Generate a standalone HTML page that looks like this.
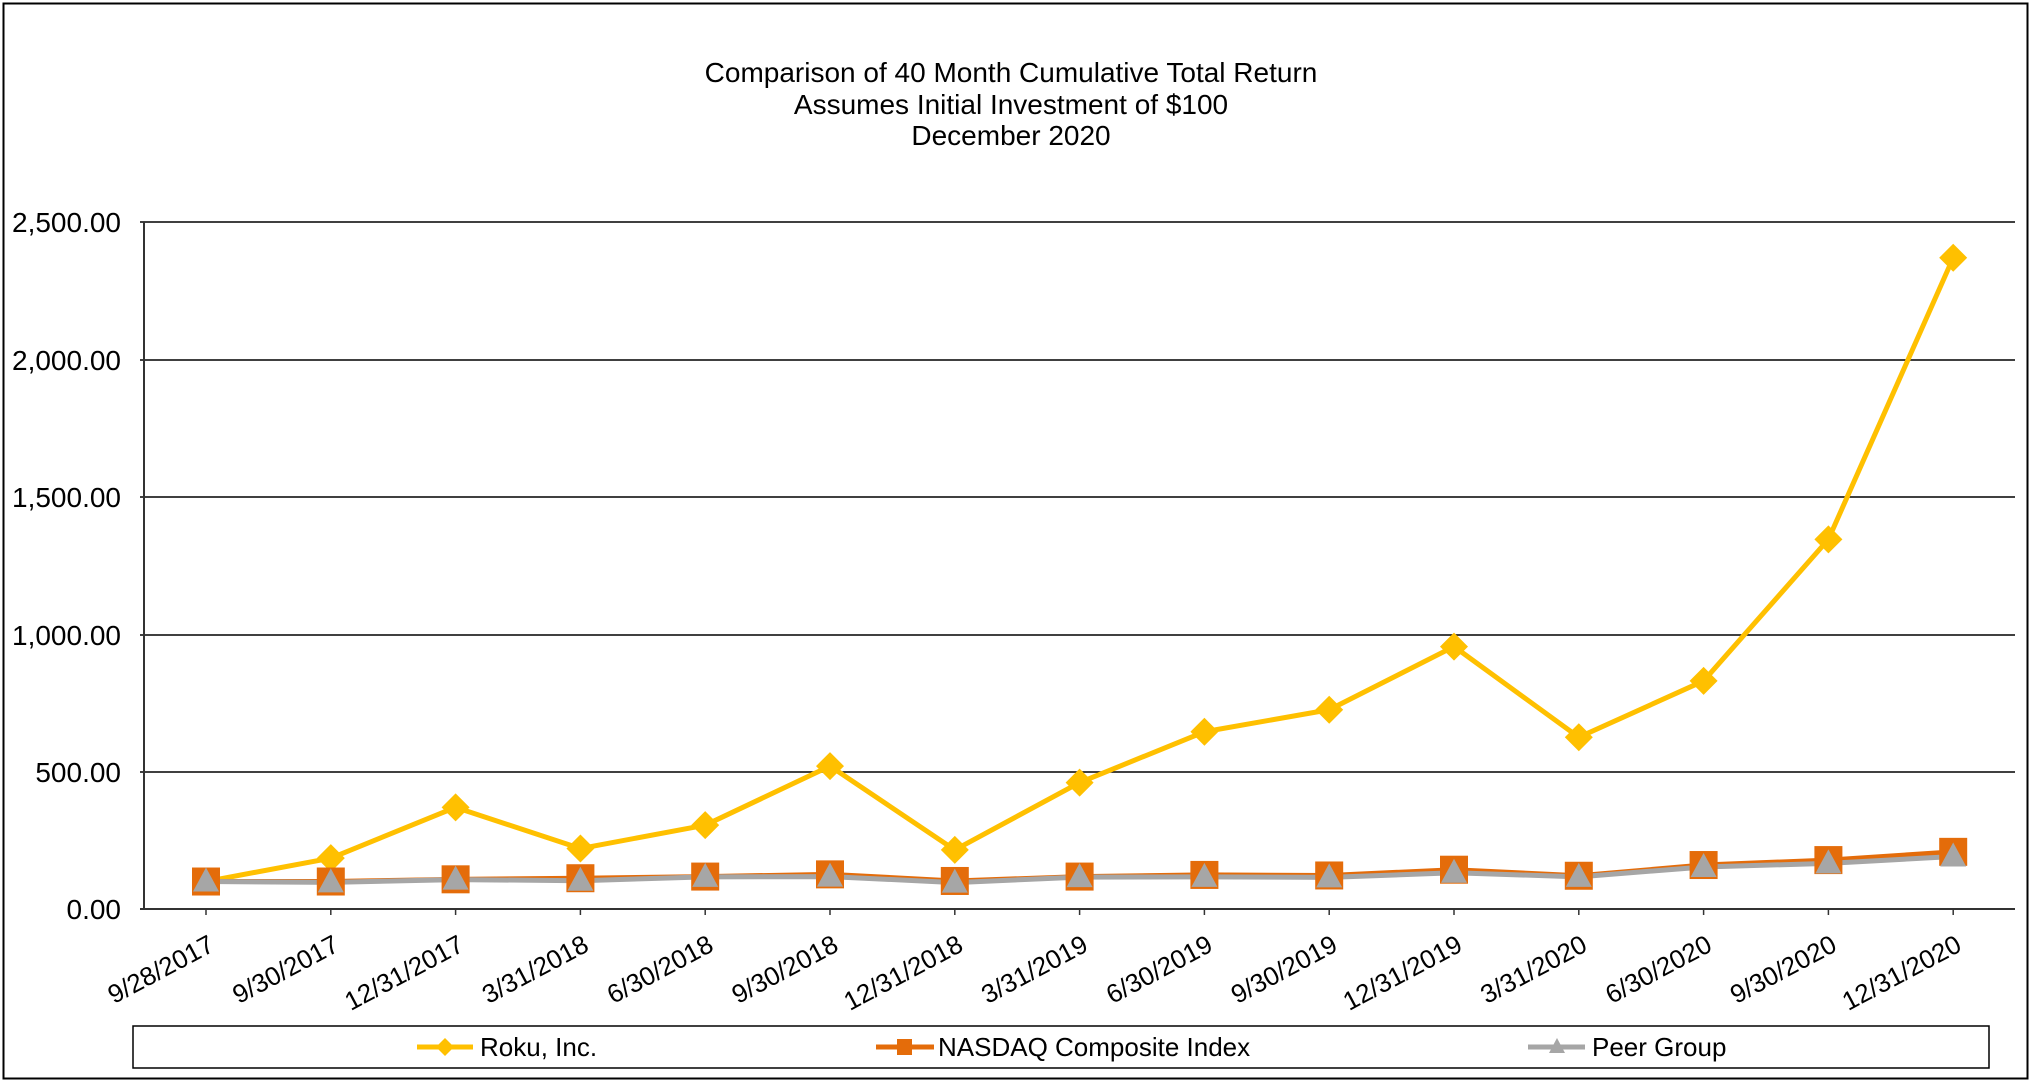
<!DOCTYPE html>
<html><head><meta charset="utf-8"><style>
html,body{margin:0;padding:0;background:#fff;}
svg{display:block;font-family:"Liberation Sans",Arial,sans-serif;}
</style></head><body>
<svg width="2032" height="1088" viewBox="0 0 2032 1088" xmlns="http://www.w3.org/2000/svg">
<rect x="3.5" y="3.5" width="2024" height="1075" fill="#fff" stroke="#000" stroke-width="2"/>
<g font-size="28" text-anchor="middle" fill="#000">
<text x="1011" y="82">Comparison of 40 Month Cumulative Total Return</text>
<text x="1011" y="114">Assumes Initial Investment of $100</text>
<text x="1011" y="145">December 2020</text>
</g>
<g stroke="#000" stroke-width="1.5">
<line x1="140" y1="222" x2="2015" y2="222"/>
<line x1="140" y1="360" x2="2015" y2="360"/>
<line x1="140" y1="497" x2="2015" y2="497"/>
<line x1="140" y1="635" x2="2015" y2="635"/>
<line x1="140" y1="772" x2="2015" y2="772"/>
</g>
<line x1="144" y1="222" x2="144" y2="910" stroke="#333" stroke-width="2"/>
<line x1="140" y1="909" x2="2015" y2="909" stroke="#333" stroke-width="2"/>
<g font-size="28" text-anchor="end" fill="#000">
<text x="121" y="232">2,500.00</text>
<text x="121" y="370">2,000.00</text>
<text x="121" y="507">1,500.00</text>
<text x="121" y="645">1,000.00</text>
<text x="121" y="782">500.00</text>
<text x="121" y="919">0.00</text>
</g>
<g id="ticks" stroke="#333" stroke-width="1.5"></g>
<g id="xl" font-size="26" text-anchor="end" fill="#000"></g>
<g id="series"></g>
<rect x="133" y="1026" width="1856" height="42" fill="#fff" stroke="#000" stroke-width="1.5"/>
<line x1="417" y1="1047" x2="473" y2="1047" stroke="#FFC000" stroke-width="5"/>
<polygon points="445,1038 454,1047 445,1056 436,1047" fill="#FFC000"/>
<text x="480" y="1056" font-size="26">Roku, Inc.</text>
<line x1="876" y1="1047" x2="934" y2="1047" stroke="#E46C0A" stroke-width="5"/>
<rect x="897" y="1039" width="15" height="16" fill="#E46C0A"/>
<text x="938" y="1056" font-size="26">NASDAQ Composite Index</text>
<line x1="1528" y1="1047" x2="1585" y2="1047" stroke="#A6A6A6" stroke-width="5"/>
<polygon points="1557,1038 1565,1053 1549,1053" fill="#A6A6A6"/>
<text x="1592" y="1056" font-size="26">Peer Group</text>
</svg>
<script>
var labels=["9/28/2017","9/30/2017","12/31/2017","3/31/2018","6/30/2018","9/30/2018","12/31/2018","3/31/2019","6/30/2019","9/30/2019","12/31/2019","3/31/2020","6/30/2020","9/30/2020","12/31/2020"];
var roku=[100,185,370,220,305,520,215,460,645,725,955,625,830,1345,2370];
var nas=[100,100,108,112,118,126,102,118,124,122,143,121,160,178,208];
var peer=[100,97,107,103,117,118,96,116,117,115,132,117,153,166,191];
var NS="http://www.w3.org/2000/svg";
function X(i){return 206+i*124.8;}
function Y(v){return 909-v*0.2748;}
function el(t,a,p){var e=document.createElementNS(NS,t);for(var k in a)e.setAttribute(k,a[k]);p.appendChild(e);return e;}
var tk=document.getElementById("ticks"),xl=document.getElementById("xl"),s=document.getElementById("series");
for(var i=0;i<15;i++){el("line",{x1:X(i),y1:909,x2:X(i),y2:915},tk);
var t=el("text",{transform:"translate("+(X(i)+10)+",950) rotate(-28)"},xl);t.textContent=labels[i];}
function line(d,c,w){el("polyline",{points:d.map(function(v,i){return X(i)+","+Y(v)}).join(" "),fill:"none",stroke:c,"stroke-width":w,"stroke-linejoin":"round"},s);}
line(roku,"#FFC000",5);
line(nas,"#E46C0A",5);
line(peer,"#A6A6A6",5);
roku.forEach(function(v,i){var x=X(i),y=Y(v);el("polygon",{points:x+","+(y-14)+" "+(x+14)+","+y+" "+x+","+(y+14)+" "+(x-14)+","+y,fill:"#FFC000"},s);});
nas.forEach(function(v,i){var x=X(i),y=Y(v);el("rect",{x:x-14,y:y-14,width:28,height:28,fill:"#E46C0A"},s);});
peer.forEach(function(v,i){var x=X(i),y=Y(v);el("polygon",{points:x+","+(y-14)+" "+(x+13)+","+(y+10)+" "+(x-13)+","+(y+10),fill:"#A6A6A6"},s);});
</script>
</body></html>
